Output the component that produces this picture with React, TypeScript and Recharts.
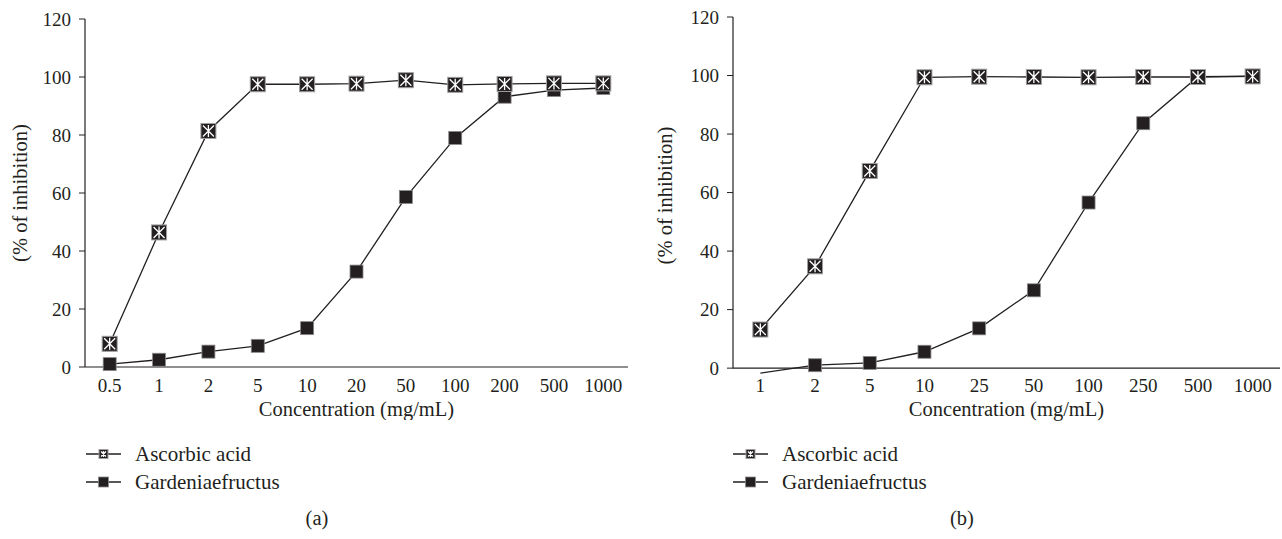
import React from 'react';
import { LineChart, Line, XAxis, YAxis, ReferenceLine } from 'recharts';

const categoriesA = ['0.5', '1', '2', '5', '10', '20', '50', '100', '200', '500', '1000'];
const ascorbicA = [8, 46.4, 81.4, 97.5, 97.5, 97.7, 98.9, 97.3, 97.6, 97.8, 97.8];
const gardeniaA = [1, 2.5, 5.3, 7.3, 13.4, 32.9, 58.6, 79, 93.2, 95.5, 96.2];

const categoriesB = ['1', '2', '5', '10', '25', '50', '100', '250', '500', '1000'];
const ascorbicB = [13.2, 34.8, 67.4, 99.4, 99.6, 99.5, 99.4, 99.5, 99.5, 99.7];
const gardeniaB = [-1.7, 1, 1.8, 5.6, 13.6, 26.6, 56.6, 83.7, 99.6, 99.8];

const yTicks = [0, 20, 40, 60, 80, 100, 120];
const seriesNames = ['Ascorbic acid', 'Gardeniaefructus'];
const captions = ['(a)', '(b)'];
const xTitle = 'Concentration (mg/mL)';
const yTitle = '(% of inhibition)';

const INK = '#231f20';
const FONT = '"Liberation Serif", "Times New Roman", serif';

const dataA = categoriesA.map((c, i) => ({ c, asc: ascorbicA[i], gar: gardeniaA[i] }));
const dataB = categoriesB.map((c, i) => ({ c, asc: ascorbicB[i], gar: gardeniaB[i] }));

const AscMark = ({ cx, cy, s }: { cx: number; cy: number; s: number }) => (
  <g>
    <rect x={cx - s} y={cy - s} width={2 * s} height={2 * s} fill={INK} stroke="#a0a0a0" strokeWidth={1} />
    <path
      d={`M${cx - s + 2},${cy - s + 2}L${cx + s - 2},${cy + s - 2}M${cx + s - 2},${cy - s + 2}L${cx - s + 2},${cy + s - 2}M${cx},${cy - s + 1.5}L${cx},${cy + s - 1.5}`}
      stroke="#fff"
      strokeWidth={1.3}
    />
  </g>
);

const GarMark = ({ cx, cy, s }: { cx: number; cy: number; s: number }) => (
  <rect x={cx - s} y={cy - s} width={2 * s} height={2 * s} fill={INK} stroke="#8a8a8a" strokeWidth={0.8} />
);

const ascDot = (props: any) => {
  const { cx, cy, index } = props;
  if (cx == null || cy == null) return <g key={`a${index}`} />;
  return (
    <g key={`a${index}`}>
      <AscMark cx={cx} cy={cy} s={7.5} />
    </g>
  );
};

const garDot = (props: any) => {
  const { cx, cy, index, value } = props;
  const v = Array.isArray(value) ? value[1] : value;
  if (cx == null || cy == null || v < 0) return <g key={`g${index}`} />;
  return (
    <g key={`g${index}`}>
      <GarMark cx={cx} cy={cy} s={6.5} />
    </g>
  );
};

const tickStyle = { fontSize: 19, fill: INK, fontFamily: FONT };
const titleStyle = { fontSize: 20.5, fill: INK, fontFamily: FONT };

const Legend = ({ left, top }: { left: number; top: number }) => (
  <div style={{ position: 'absolute', left, top, fontFamily: FONT, fontSize: 21, color: INK }}>
    {seriesNames.map((name, i) => (
      <div key={name} style={{ display: 'flex', alignItems: 'center', height: 28 }}>
        <svg width={36} height={14} style={{ display: 'block' }}>
          <line x1={0} y1={7} x2={35} y2={7} stroke={INK} strokeWidth={1.3} />
          {i === 0 ? <AscMark cx={17.5} cy={7} s={4.5} /> : <GarMark cx={17.5} cy={7} s={5} />}
        </svg>
        <span style={{ marginLeft: 13, lineHeight: '28px' }}>{name}</span>
      </div>
    ))}
  </div>
);

export default function App() {
  return (
    <div style={{ position: 'absolute', left: 0, top: 0, width: 1282, height: 539, background: '#fff', fontFamily: FONT, overflow: 'hidden' }}>
      <div style={{ position: 'absolute', left: 0, top: 0 }}>
        <LineChart width={641} height={420} data={dataA} margin={{ top: 19, right: 13, left: 10, bottom: 0 }}>
          <XAxis
            dataKey="c"
            scale="band"
            tickLine={false}
            tickSize={0}
            tickMargin={12}
            axisLine={{ stroke: INK, strokeWidth: 1.2 }}
            tick={tickStyle}
            height={53}
            interval={0}
            label={{ value: xTitle, position: 'insideBottom', offset: 4, style: { ...titleStyle } }}
          />
          <YAxis
            domain={[0, 120]}
            ticks={yTicks}
            width={75}
            tickSize={6}
            tickMargin={8}
            tickLine={{ stroke: INK }}
            axisLine={{ stroke: INK, strokeWidth: 1.2 }}
            tick={tickStyle}
            label={{ value: yTitle, angle: -90, position: 'insideLeft', offset: 10, style: { ...titleStyle, textAnchor: 'middle' } }}
          />
          <Line dataKey="gar" stroke={INK} strokeWidth={1.3} dot={garDot} isAnimationActive={false} />
          <Line dataKey="asc" stroke={INK} strokeWidth={1.3} dot={ascDot} isAnimationActive={false} />
        </LineChart>
      </div>
      <div style={{ position: 'absolute', left: 641, top: 0 }}>
        <LineChart width={641} height={421} data={dataB} margin={{ top: 17, right: 2, left: 14, bottom: 0 }}>
          <XAxis
            dataKey="c"
            scale="band"
            tickLine={false}
            tickSize={0}
            tickMargin={5}
            axisLine={false}
            tick={tickStyle}
            height={47}
            interval={0}
            label={{ value: xTitle, position: 'insideBottom', offset: 5, style: { ...titleStyle } }}
          />
          <YAxis
            domain={[-2, 120]}
            ticks={yTicks}
            width={78}
            tickSize={6}
            tickMargin={8}
            tickLine={{ stroke: INK }}
            axisLine={false}
            tick={tickStyle}
            label={{ value: yTitle, angle: -90, position: 'insideLeft', offset: 10, style: { ...titleStyle, textAnchor: 'middle' } }}
          />
          <ReferenceLine y={0} stroke={INK} strokeWidth={1.2} />
          <ReferenceLine
            segment={[{ x: categoriesB[0], y: 0 }, { x: categoriesB[0], y: 120 }]}
            position="start"
            stroke={INK}
            strokeWidth={1.2}
          />
          <Line dataKey="gar" stroke={INK} strokeWidth={1.3} dot={garDot} isAnimationActive={false} />
          <Line dataKey="asc" stroke={INK} strokeWidth={1.3} dot={ascDot} isAnimationActive={false} />
        </LineChart>
      </div>
      <Legend left={86} top={440} />
      <Legend left={733} top={440} />
      <div style={{ position: 'absolute', left: 297, top: 507, width: 40, textAlign: 'center', fontSize: 20.5, color: INK }}>{captions[0]}</div>
      <div style={{ position: 'absolute', left: 942, top: 507, width: 40, textAlign: 'center', fontSize: 20.5, color: INK }}>{captions[1]}</div>
    </div>
  );
}
